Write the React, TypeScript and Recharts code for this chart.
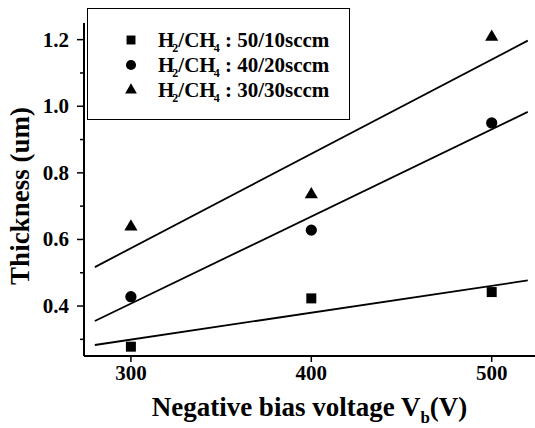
import React from 'react';
import { ComposedChart, Scatter, Line, XAxis, YAxis, Legend, Symbols } from 'recharts';

const voltages = [300, 400, 500];
const thick5010 = [0.278, 0.423, 0.442];
const thick4020 = [0.428, 0.628, 0.95];
const thick3030 = [0.638, 0.735, 1.208];

// linear fit lines as drawn in the figure (ends)
const fitEnds = [280, 520];
const fit5010 = [0.283, 0.477];
const fit4020 = [0.355, 0.983];
const fit3030 = [0.517, 1.197];

const seriesNames = ['50/10sccm', '40/20sccm', '30/30sccm'];
const seriesSymbols = ['square', 'circle', 'triangle'] as const;
const symbolSizes = [100, 100, 75];

const xTicks = [300, 400, 500];
const yTicks = [0.3, 0.4, 0.5, 0.6, 0.7, 0.8, 0.9, 1.0, 1.1, 1.2];

const FONT = 'Liberation Serif, Times New Roman, Times, serif';
const txt = { fontFamily: FONT, fontWeight: 700 };

const toPoints = (ys: number[]) => voltages.map((v, i) => ({ x: v, y: ys[i] }));
const toFit = (ys: number[]) => fitEnds.map((v, i) => ({ x: v, y: ys[i] }));

function YTick(props: any) {
  const { x, y, payload } = props;
  const major = Math.round(payload.value * 10) % 2 === 0;
  return (
    <g>
      <line x1={x - (major ? 7 : 4)} x2={x} y1={y} y2={y} stroke="#000" strokeWidth={1.5} />
      {major && (
        <text x={x - 15} y={y} dy={7} textAnchor="end" style={{ ...txt, fontSize: 21 }} fill="#000">
          {payload.value.toFixed(1)}
        </text>
      )}
    </g>
  );
}

function XTick(props: any) {
  const { x, y, payload } = props;
  return (
    <text x={x} y={y} dy={16} textAnchor="middle" style={{ ...txt, fontSize: 21 }} fill="#000">
      {payload.value}
    </text>
  );
}

function XTitle(props: any) {
  const { viewBox } = props;
  const cx = viewBox.x + viewBox.width / 2;
  return (
    <text x={cx} y={viewBox.y + 60} textAnchor="middle" style={{ ...txt, fontSize: 27 }} fill="#000">
      Negative bias voltage V<tspan style={{ fontSize: 17 }} dy={7}>b</tspan><tspan dy={-7}>(V)</tspan>
    </text>
  );
}

function YTitle() {
  return (
    <text x={0} y={0} transform="translate(29, 196) rotate(-90)" textAnchor="middle" style={{ ...txt, fontSize: 27 }} fill="#000">
      Thickness (um)
    </text>
  );
}

function LegendBox() {
  const rows = [32, 57, 82];
  return (
    <svg width={263} height={112} style={{ display: 'block' }}>
      <rect x={0.5} y={0.5} width={262} height={111} fill="#fff" stroke="#000" strokeWidth={1} />
      {seriesNames.map((name, i) => (
        <g key={name}>
          <Symbols cx={44} cy={rows[i]} type={seriesSymbols[i]} size={symbolSizes[i] * 0.8} fill="#000" />
          <text x={71} y={rows[i] + 7} style={{ ...txt, fontSize: 21 }} fill="#000">
            H<tspan style={{ fontSize: 12 }} dy={5} dx={-2}>2</tspan>
            <tspan dy={-5}>/CH</tspan>
            <tspan style={{ fontSize: 12 }} dy={5} dx={-2}>4</tspan>
            <tspan dy={-5}>{' : ' + name}</tspan>
          </text>
        </g>
      ))}
    </svg>
  );
}

const makeShape = (i: number) => (p: any) => (
  <Symbols cx={p.cx} cy={p.cy} type={seriesSymbols[i]} size={symbolSizes[i]} fill="#000" />
);

export default function App() {
  const sets = [thick5010, thick4020, thick3030];
  const fits = [fit5010, fit4020, fit3030];
  return (
    <div style={{ position: 'absolute', left: 0, top: 0, width: 535, height: 428, background: '#fff' }}>
      <ComposedChart width={535} height={428} margin={{ top: 23, right: 0, bottom: 0, left: 0 }}>
        <XAxis
          type="number"
          dataKey="x"
          domain={[274, 524]}
          allowDataOverflow
          ticks={xTicks}
          tickSize={6}
          tickMargin={2}
          height={72}
          axisLine={{ stroke: '#000', strokeWidth: 2 }}
          tickLine={{ stroke: '#000', strokeWidth: 1.5 }}
          tick={<XTick />}
          label={<XTitle />}
        />
        <YAxis
          type="number"
          dataKey="y"
          domain={[0.25, 1.25]}
          allowDataOverflow
          ticks={yTicks}
          width={84}
          tickSize={0}
          tickMargin={0}
          tickLine={false}
          axisLine={{ stroke: '#000', strokeWidth: 2 }}
          tick={<YTick />}
          label={<YTitle />}
        />
        <Legend layout="vertical" align="center" verticalAlign="middle" content={<LegendBox />}
          wrapperStyle={{ position: 'absolute', left: 87, top: 8, width: 263, height: 112 }} />
        {fits.map((f, i) => (
          <Line key={'fit' + i} data={toFit(f)} dataKey="y" type="linear" stroke="#000" strokeWidth={1.8}
            dot={false} activeDot={false} isAnimationActive={false} legendType="none" />
        ))}
        {sets.map((s, i) => (
          <Scatter key={'pts' + i} name={seriesNames[i]} data={toPoints(s)} dataKey="y" fill="#000"
            shape={makeShape(i)} isAnimationActive={false} />
        ))}
      </ComposedChart>
    </div>
  );
}
